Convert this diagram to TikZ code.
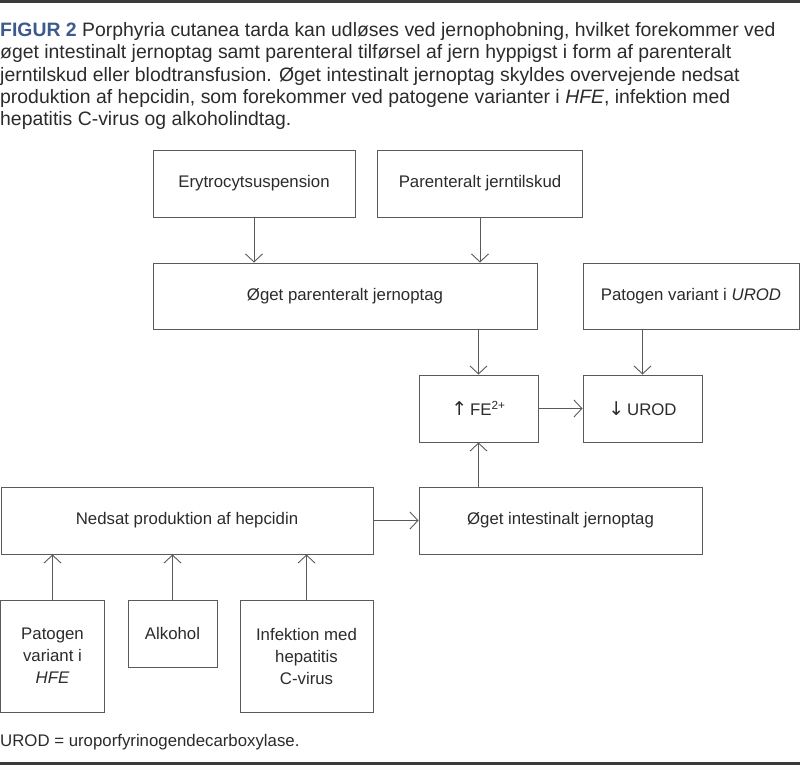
\documentclass[tikz,border=0pt]{standalone}
\usepackage{fontspec}
\setmainfont{Liberation Sans}
\newfontfamily\arrowfont{DejaVu Sans}
\usetikzlibrary{arrows.meta}

\definecolor{figblue}{HTML}{3D5A8C}
\definecolor{txtgray}{HTML}{2B2B2B}
\definecolor{linegray}{HTML}{5A5A5A}
\definecolor{rulegray}{HTML}{3A3A3A}

\begin{document}
\begin{tikzpicture}[x=1pt, y=-1pt,
  box/.style={draw=linegray, line width=0.9pt, text=txtgray, align=center,
    inner sep=0pt, font=\fontsize{16.8}{22}\selectfont},
  arr/.style={-{Straight Barb[length=8pt,width=17pt]}, draw=linegray, line width=0.9pt}]

  \useasboundingbox (0,0) rectangle (800,765);

  % --- rules and caption ---
  \fill[rulegray] (0,0) rectangle (800,3.5);
  \fill[rulegray] (0,761.5) rectangle (800,765);
  \node[anchor=base west, inner sep=0pt, align=left, text=txtgray,
    font=\fontsize{19.4}{22.4}\selectfont] (caption) at (0,126)
    {{\color{figblue}\bfseries FIGUR 2} Porphyria cutanea tarda kan udløses ved jernophobning, hvilket forekommer ved\\
     øget intestinalt jernoptag samt parenteral tilførsel af jern hyppigst i form af parenteralt\\
     jerntilskud eller blodtransfusion. Øget intestinalt jernoptag skyldes overvejende nedsat\\
     produktion af hepcidin, som forekommer ved patogene varianter i \textit{HFE}, infektion med\\
     hepatitis C-virus og alkoholindtag.};
  \node[anchor=base west, inner sep=0pt, text=txtgray,
    font=\fontsize{16.8}{20}\selectfont] (note) at (0,746)
    {UROD = uroporfyrinogendecarboxylase.};

  % --- parenteral route ---
  \node[box, minimum width=202pt, minimum height=67pt] (ery) at (254,183.5) {Erytrocytsuspension};
  \node[box, minimum width=205pt, minimum height=67pt] (par) at (480,183.5) {Parenteralt jerntilskud};
  \node[box, minimum width=384pt, minimum height=66pt] (opar) at (345,296) {Øget parenteralt jernoptag};
  \node[box, minimum width=216pt, minimum height=66pt] (urodvar) at (691,296) {Patogen variant i \textit{UROD}};

  % --- iron and enzyme ---
  \node[box, minimum width=119pt, minimum height=67pt] (fe) at (478.5,408.5)
    {{\arrowfont\fontsize{19}{19}\selectfont↑}\,FE\textsuperscript{2+}};
  \node[box, minimum width=119pt, minimum height=67pt] (urod) at (642.5,408.5)
    {{\arrowfont\fontsize{19}{19}\selectfont↓}\,UROD};

  % --- intestinal route ---
  \node[box, minimum width=372pt, minimum height=67pt] (hep) at (187,520.5) {Nedsat produktion af hepcidin};
  \node[box, minimum width=283pt, minimum height=67pt] (oint) at (560.5,520.5) {Øget intestinalt jernoptag};
  \node[box, minimum width=104pt, minimum height=112pt] (hfe) at (52.5,656) {Patogen\\variant i\\\textit{HFE}};
  \node[box, minimum width=89pt, minimum height=67pt] (alk) at (172.5,633.5) {Alkohol};
  \node[box, minimum width=133pt, minimum height=112pt] (hcv) at (306.5,656) {Infektion med\\hepatitis\\C-virus};

  % --- connectors ---
  \draw[arr] (ery.south) -- (ery.south |- opar.north);
  \draw[arr] (par.south) -- (par.south |- opar.north);
  \draw[arr] (opar.south -| fe.north) -- (fe.north);
  \draw[arr] (urodvar.south -| urod.north) -- (urod.north);
  \draw[arr] (fe) -- (urod);
  \draw[arr] (hep) -- (oint);
  \draw[arr] (oint.north -| fe.south) -- (fe.south);
  \draw[arr] (hfe.north) -- (hfe.north |- hep.south);
  \draw[arr] (alk.north) -- (alk.north |- hep.south);
  \draw[arr] (hcv.north) -- (hcv.north |- hep.south);

\end{tikzpicture}
\end{document}
